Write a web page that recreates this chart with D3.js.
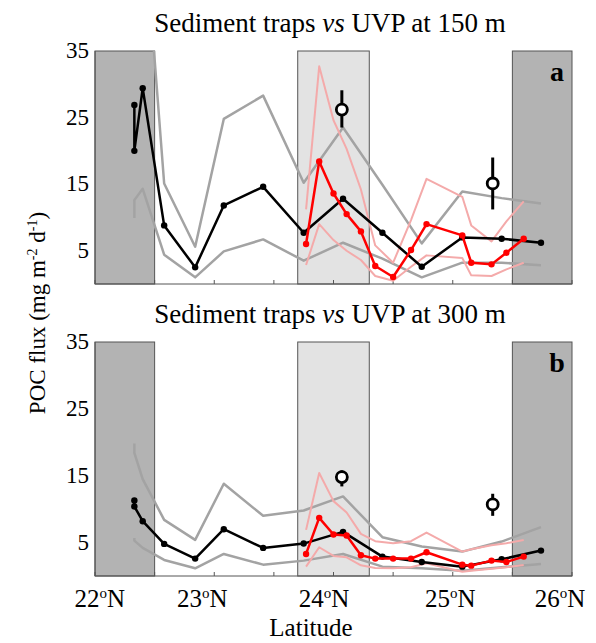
<!DOCTYPE html>
<html>
<head>
<meta charset="utf-8">
<script src="https://cdn.jsdelivr.net/npm/d3@7"></script>
<style>
  body { margin: 0; background: #fff; }
</style>
</head>
<body>
<script>
(function() {
    var w = 596;
    var h = 643;
    var left = 95, right = 572;
    var serif = "'Liberation Serif', 'Times New Roman', Times, serif";

    // latitude of trap stations and UVP profiles
    var trapLat = [22.33, 22.33, 22.40, 22.58, 22.84, 23.08, 23.41, 23.75, 24.08, 24.41, 24.74, 25.08, 25.41, 25.74];
    var uvpLat = [23.77, 23.88, 24.00, 24.11, 24.23, 24.35, 24.50, 24.65, 24.78, 25.08, 25.155, 25.325, 25.45, 25.595];
    var circLat = [24.07, 25.335];

    // 150 m
    var trapA = [26.9, 20.0, 29.4, 8.8, 2.5, 11.8, 14.6, 7.7, 12.8, 7.7, 2.6, 7.0, 6.8, 6.2];
    var trapHiA = [48, 38, 57, 15.1, 5.6, 24.8, 28.3, 15.2, 23.5, 14.9, 6.1, 13.9, 12.9, 12.1];
    var trapLoA = [9.9, 12.6, 14.3, 4.4, 1.0, 4.9, 6.7, 3.5, 6.2, 3.8, 1.0, 3.2, 3.2, 2.8];
    var uvpA = [6.0, 18.4, 13.6, 10.5, 7.9, 2.7, 1.05, 5.1, 9.0, 7.3, 3.2, 2.95, 4.7, 6.8];
    var uvpHiA = [11.2, 32.7, 24.6, 20.3, 14.2, 5.8, 3.2, 9.6, 15.8, 13.1, 8.8, 6.4, 9.4, 12.4];
    var uvpLoA = [2.85, 9.0, 6.6, 5.0, 3.6, 1.2, 0.5, 2.6, 4.3, 3.9, 1.3, 1.2, 2.2, 3.2];
    var circA = [26.2, 15.1];
    var circLoA = [23.5, 11.2];
    var circHiA = [29.1, 19.0];

    // 300 m
    var trapB = [11.3, 10.4, 8.2, 4.8, 2.6, 7.0, 4.2, 4.85, 6.6, 2.9, 2.1, 1.4, 2.5, 3.8];
    var trapHiB = [19.8, 18.4, 14.5, 8.4, 5.4, 13.8, 9.0, 9.8, 11.9, 5.8, 4.4, 3.65, 5.15, 7.3];
    var trapLoB = [5.7, 5.3, 4.2, 2.4, 1.15, 3.3, 1.7, 2.3, 3.3, 1.4, 1.15, 0.8, 1.3, 1.8];
    var uvpB = [3.3, 8.7, 6.2, 6.05, 3.1, 2.6, 2.6, 2.6, 3.55, 1.7, 1.55, 2.3, 2.1, 2.9];
    var uvpHiB = [6.9, 15.4, 11.2, 9.5, 6.3, 5.2, 4.9, 5.2, 6.5, 3.65, 4.0, 4.6, 4.9, 5.4];
    var uvpLoB = [1.4, 4.3, 3.0, 2.8, 1.6, 1.2, 1.15, 1.3, 1.9, 0.65, 0.8, 1.1, 1.3, 1.65];
    var circB = [14.8, 10.7];
    var circLoB = [13.4, 9.0];
    var circHiB = [15.8, 12.3];

    var yTicks = [5, 15, 25, 35];
    var xTicks = [22, 22.5, 23, 23.5, 24, 24.5, 25, 25.5, 26];
    var xLabelNum = ["22", "23", "24", "25", "26"];
    var xLabelLat = [22.04, 22.9, 23.92, 24.98, 25.9];
    var darkBands = [[22, 22.5], [25.5, 26]];
    var lightBands = [[23.7, 24.3]];

    var svg = d3.select("body").append("svg")
        .attr("width", w)
        .attr("height", h)
        .attr("font-family", serif);

    var x = d3.scaleLinear().domain([22, 26]).range([left, right]);

    function drawPanel(top, bottom, title, letter, d) {
        var y = d3.scaleLinear().domain([0, 35]).range([bottom, top]);
        var g = svg.append("g");
        var id = "clip" + letter;

        svg.append("clipPath").attr("id", id)
            .append("rect")
            .attr("x", left).attr("y", top)
            .attr("width", right - left).attr("height", bottom - top);

        g.selectAll("rect.dark")
            .data(darkBands)
            .enter()
            .append("rect")
            .attr("x", function(b) { return x(b[0]); })
            .attr("y", top)
            .attr("width", function(b) { return x(b[1]) - x(b[0]); })
            .attr("height", bottom - top)
            .attr("fill", "#b3b3b3")
            .attr("stroke", "#555")
            .attr("stroke-width", 1);

        g.selectAll("rect.light")
            .data(lightBands)
            .enter()
            .append("rect")
            .attr("x", function(b) { return x(b[0]); })
            .attr("y", top)
            .attr("width", function(b) { return x(b[1]) - x(b[0]); })
            .attr("height", bottom - top)
            .attr("fill", "#e3e3e3")
            .attr("stroke", "#555")
            .attr("stroke-width", 1);

        // axes
        g.append("line")
            .attr("x1", left).attr("x2", left)
            .attr("y1", top).attr("y2", bottom)
            .attr("stroke", "#555");
        g.append("line")
            .attr("x1", left).attr("x2", right)
            .attr("y1", bottom).attr("y2", bottom)
            .attr("stroke", "#555");
        g.selectAll("line.tick")
            .data(xTicks)
            .enter()
            .append("line")
            .attr("x1", function(t) { return x(t); })
            .attr("x2", function(t) { return x(t); })
            .attr("y1", bottom)
            .attr("y2", bottom - 4)
            .attr("stroke", "#555");

        g.selectAll("text.ytick")
            .data(yTicks)
            .enter()
            .append("text")
            .attr("x", left - 6)
            .attr("y", function(t) { return y(t) + 7; })
            .attr("text-anchor", "end")
            .attr("font-size", 23)
            .text(function(t) { return t; });

        svg.append("text")
            .attr("x", 330)
            .attr("y", top - 19)
            .attr("text-anchor", "middle")
            .attr("font-size", 27)
            .call(function(t) {
                t.append("tspan").text(title[0]);
                t.append("tspan").attr("font-style", "italic").text("vs");
                t.append("tspan").text(title[1]);
            });

        svg.append("text")
            .attr("x", 557)
            .attr("y", top + 30)
            .attr("text-anchor", "middle")
            .attr("font-size", 28)
            .attr("font-weight", "bold")
            .text(letter);

        var plot = svg.append("g").attr("clip-path", "url(#" + id + ")");

        function series(lat, vals, color, width) {
            var pts = lat.map(function(l, i) { return [l, vals[i]]; });
            plot.append("path")
                .datum(pts)
                .attr("fill", "none")
                .attr("stroke", color)
                .attr("stroke-width", width)
                .attr("stroke-linejoin", "round")
                .attr("d", d3.line()
                    .x(function(p) { return x(p[0]); })
                    .y(function(p) { return y(p[1]); }));
            return pts;
        }

        function dots(pts, color) {
            plot.selectAll(null)
                .data(pts)
                .enter()
                .append("circle")
                .attr("cx", function(p) { return x(p[0]); })
                .attr("cy", function(p) { return y(p[1]); })
                .attr("r", 3.2)
                .attr("fill", color);
        }

        series(trapLat, d.trapHi, "#a3a3a3", 2.5);
        series(trapLat, d.trapLo, "#a3a3a3", 2.5);
        series(uvpLat, d.uvpHi, "#f4aaaa", 2);
        series(uvpLat, d.uvpLo, "#f4aaaa", 2);
        dots(series(trapLat, d.trap, "#000", 2.5), "#000");
        dots(series(uvpLat, d.uvp, "#ff0000", 2.5), "#ff0000");

        // UVP profile means
        var circ = svg.append("g");
        circ.selectAll("line")
            .data(circLat)
            .enter()
            .append("line")
            .attr("x1", function(l) { return x(l); })
            .attr("x2", function(l) { return x(l); })
            .attr("y1", function(l, i) { return y(d.circHi[i]); })
            .attr("y2", function(l, i) { return y(d.circLo[i]); })
            .attr("stroke", "#000")
            .attr("stroke-width", 3);
        circ.selectAll("circle")
            .data(circLat)
            .enter()
            .append("circle")
            .attr("cx", function(l) { return x(l); })
            .attr("cy", function(l, i) { return y(d.circ[i]); })
            .attr("r", 5.5)
            .attr("fill", "#fff")
            .attr("stroke", "#000")
            .attr("stroke-width", 2.8);
    }

    drawPanel(51, 284, ["Sediment traps ", " UVP at 150 m"], "a", {
        trap: trapA, trapHi: trapHiA, trapLo: trapLoA,
        uvp: uvpA, uvpHi: uvpHiA, uvpLo: uvpLoA,
        circ: circA, circLo: circLoA, circHi: circHiA
    });
    drawPanel(342, 576, ["Sediment traps ", " UVP at 300 m"], "b", {
        trap: trapB, trapHi: trapHiB, trapLo: trapLoB,
        uvp: uvpB, uvpHi: uvpHiB, uvpLo: uvpLoB,
        circ: circB, circLo: circLoB, circHi: circHiB
    });

    // x tick labels
    svg.selectAll("text.xlab")
        .data(xLabelNum)
        .enter()
        .append("text")
        .attr("x", function(d, i) { return x(xLabelLat[i]); })
        .attr("y", 607)
        .attr("text-anchor", "middle")
        .attr("font-size", 25)
        .call(function(t) {
            t.append("tspan").text(function(d) { return d; });
            t.append("tspan").attr("font-size", 15).attr("dy", -9).text("o");
            t.append("tspan").attr("dy", 9).text("N");
        });

    svg.append("text")
        .attr("x", 311)
        .attr("y", 636)
        .attr("text-anchor", "middle")
        .attr("font-size", 25)
        .text("Latitude");

    svg.append("text")
        .attr("transform", "translate(45,313) rotate(-90)")
        .attr("text-anchor", "middle")
        .attr("font-size", 23)
        .call(function(t) {
            t.append("tspan").text("POC flux (mg m");
            t.append("tspan").attr("font-size", 14).attr("dy", -8).text("-2");
            t.append("tspan").attr("dy", 8).text(" d");
            t.append("tspan").attr("font-size", 14).attr("dy", -8).text("-1");
            t.append("tspan").attr("dy", 8).text(")");
        });
})();
</script>
</body>
</html>
